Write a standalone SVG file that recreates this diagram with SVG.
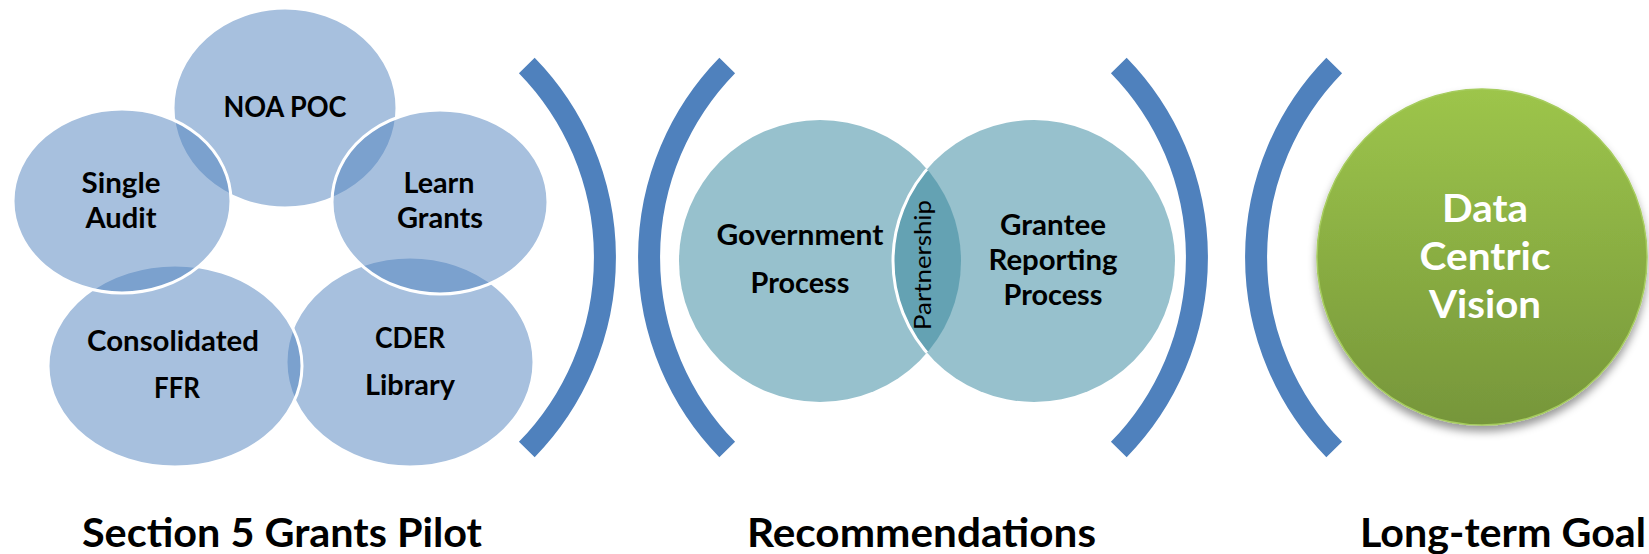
<svg xmlns="http://www.w3.org/2000/svg" width="1649" height="554" viewBox="0 0 1649 554">
<style>
.c5 { fill: #4F81BD; fill-opacity: 0.5; stroke: #FFFFFF; stroke-width: 3; }
.lbl { font-family: Lato, "Liberation Sans", sans-serif; font-weight: bold; font-size: 28px; fill: #000000; text-anchor: middle; }
.big { font-family: Lato, "Liberation Sans", sans-serif; font-weight: bold; font-size: 40px; fill: #000000; text-anchor: middle; }
.wht { font-family: Lato, "Liberation Sans", sans-serif; font-weight: bold; font-size: 39px; fill: #FFFFFF; text-anchor: middle; }
.part { font-family: Lato, "Liberation Sans", sans-serif; font-weight: normal; font-size: 24px; fill: #000000; text-anchor: middle; }
.brk { fill: none; stroke: #4F81BD; stroke-width: 22; stroke-linecap: butt; }
.teal { fill: #97C1CD; }
</style>
<defs>
<linearGradient id="gGreen" x1="0" y1="0" x2="0" y2="1">
<stop offset="0" stop-color="#9DC54B"/>
<stop offset="1" stop-color="#76963A"/>
</linearGradient>
<filter id="shadow" x="-20%" y="-20%" width="140%" height="140%">
<feDropShadow dx="0" dy="6" stdDeviation="4" flood-color="#000000" flood-opacity="0.4"/>
</filter>
<clipPath id="clipGov">
<ellipse cx="820" cy="261" rx="141" ry="141"/>
</clipPath>
</defs>

<g id="brackets">
<path class="brk" d="M526.8,65.5 A275,275 0 0 1 526.8,449.5"/>
<path class="brk" d="M727.2,65.5 A275,275 0 0 0 727.2,449.5"/>
<path class="brk" d="M1118.8,65.5 A275,275 0 0 1 1118.8,449.5"/>
<path class="brk" d="M1334.2,65.5 A275,275 0 0 0 1334.2,449.5"/>
</g>

<g id="noa-poc">
<ellipse class="c5" cx="285" cy="108" rx="112" ry="100"/>
<text class="lbl" x="285" y="117" textLength="123" lengthAdjust="spacingAndGlyphs">NOA POC</text>
</g>
<g id="cder-library">
<ellipse class="c5" cx="410" cy="362" rx="124" ry="105"/>
<text class="lbl" x="410" y="348" textLength="70" lengthAdjust="spacingAndGlyphs">CDER</text>
<text class="lbl" x="410" y="395" textLength="90" lengthAdjust="spacingAndGlyphs">Library</text>
</g>
<g id="consolidated-ffr">
<ellipse class="c5" cx="175" cy="366" rx="127" ry="101"/>
<text class="lbl" x="173" y="351" textLength="172" lengthAdjust="spacingAndGlyphs">Consolidated</text>
<text class="lbl" x="177" y="398" textLength="46" lengthAdjust="spacingAndGlyphs">FFR</text>
</g>
<g id="single-audit">
<ellipse class="c5" cx="122" cy="201" rx="109" ry="92"/>
<text class="lbl" x="121" y="193" textLength="79" lengthAdjust="spacingAndGlyphs">Single</text>
<text class="lbl" x="121" y="228" textLength="71" lengthAdjust="spacingAndGlyphs">Audit</text>
</g>
<g id="learn-grants">
<ellipse class="c5" cx="440" cy="202" rx="108" ry="92"/>
<text class="lbl" x="439" y="193" textLength="71" lengthAdjust="spacingAndGlyphs">Learn</text>
<text class="lbl" x="440" y="228" textLength="86" lengthAdjust="spacingAndGlyphs">Grants</text>
</g>

<g id="government-process">
<ellipse class="teal" cx="820" cy="261" rx="141" ry="141"/>
<text class="lbl" x="800" y="245" textLength="167" lengthAdjust="spacingAndGlyphs">Government</text>
<text class="lbl" x="800" y="293" textLength="99" lengthAdjust="spacingAndGlyphs">Process</text>
</g>
<g id="grantee-reporting-process">
<ellipse class="teal" cx="1034" cy="261" rx="141" ry="141"/>
<text class="lbl" x="1053" y="235" textLength="106" lengthAdjust="spacingAndGlyphs">Grantee</text>
<text class="lbl" x="1053" y="270" textLength="129" lengthAdjust="spacingAndGlyphs">Reporting</text>
<text class="lbl" x="1053" y="305" textLength="99" lengthAdjust="spacingAndGlyphs">Process</text>
</g>
<g id="partnership">
<ellipse cx="1034" cy="261" rx="141" ry="141" fill="#64A2B3" clip-path="url(#clipGov)"/>
<ellipse cx="1034" cy="261" rx="141" ry="141" fill="none" stroke="#FFFFFF" stroke-width="3" clip-path="url(#clipGov)"/>
<text class="part" transform="translate(931,265) rotate(-90)" x="0" y="0" textLength="130" lengthAdjust="spacingAndGlyphs">Partnership</text>
</g>

<g id="data-centric-vision">
<ellipse cx="1482" cy="257" rx="165" ry="168" fill="url(#gGreen)" stroke="#A6CC5E" stroke-width="1.5" filter="url(#shadow)"/>
<text class="wht" x="1485" y="222" textLength="86" lengthAdjust="spacingAndGlyphs">Data</text>
<text class="wht" x="1485" y="270" textLength="131" lengthAdjust="spacingAndGlyphs">Centric</text>
<text class="wht" x="1485" y="318" textLength="112" lengthAdjust="spacingAndGlyphs">Vision</text>
</g>

<g id="section-labels">
<text class="big" x="282" y="547" textLength="400" lengthAdjust="spacingAndGlyphs">Section 5 Grants Pilot</text>
<text class="big" x="921.5" y="547" textLength="349" lengthAdjust="spacingAndGlyphs">Recommendations</text>
<text class="big" x="1503" y="547" textLength="286" lengthAdjust="spacingAndGlyphs">Long-term Goal</text>
</g>
</svg>
